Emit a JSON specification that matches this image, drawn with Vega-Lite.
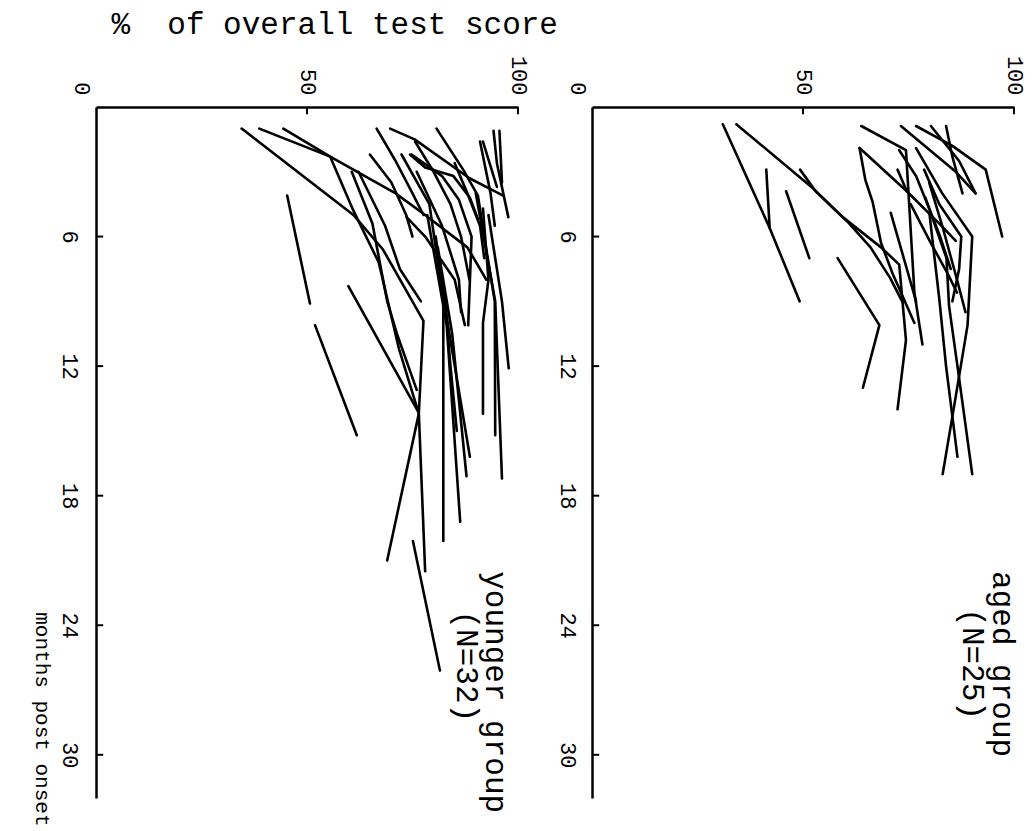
{
  "$schema": "https://vega.github.io/schema/vega-lite/v6.json",
  "padding": {"left": 31, "top": 8, "right": 5, "bottom": 3},
  "background": "white",
  "config": {
    "view": {"stroke": null},
    "font": "Liberation Mono",
    "axis": {
      "grid": false,
      "ticks": false,
      "domainColor": "black",
      "domainWidth": 2.5,
      "labelColor": "black",
      "labelFont": "Liberation Mono",
      "labelFontSize": 22,
      "titleColor": "black"
    }
  },
  "datasets": {
    "scores": [
      {"g": "younger", "id": "y1", "m": 1.0, "p": 34.5}, {"g": "younger", "id": "y1", "m": 5.0, "p": 61}, {"g": "younger", "id": "y1", "m": 6.6, "p": 68}, {"g": "younger", "id": "y1", "m": 9.9, "p": 77.6}, {"g": "younger", "id": "y1", "m": 14.2, "p": 76.5}, {"g": "younger", "id": "y1", "m": 21.0, "p": 69},
      {"g": "younger", "id": "y2", "m": 1.0, "p": 38.7}, {"g": "younger", "id": "y2", "m": 2.3, "p": 55.5}, {"g": "younger", "id": "y2", "m": 4.8, "p": 61}, {"g": "younger", "id": "y2", "m": 7.2, "p": 67}, {"g": "younger", "id": "y2", "m": 11.2, "p": 71.8}, {"g": "younger", "id": "y2", "m": 14.2, "p": 76.5}, {"g": "younger", "id": "y2", "m": 21.5, "p": 78},
      {"g": "younger", "id": "y3", "m": 1.0, "p": 44.4}, {"g": "younger", "id": "y3", "m": 2.3, "p": 55.5}, {"g": "younger", "id": "y3", "m": 4.0, "p": 71}, {"g": "younger", "id": "y3", "m": 5.0, "p": 78}, {"g": "younger", "id": "y3", "m": 6.5, "p": 88}, {"g": "younger", "id": "y3", "m": 8.0, "p": 92.5},
      {"g": "younger", "id": "y4", "m": 8.3, "p": 59.8}, {"g": "younger", "id": "y4", "m": 14.1, "p": 76.3},
      {"g": "younger", "id": "y5", "m": 4.1, "p": 45.3}, {"g": "younger", "id": "y5", "m": 9.1, "p": 50.7},
      {"g": "younger", "id": "y6", "m": 10.1, "p": 51.9}, {"g": "younger", "id": "y6", "m": 15.2, "p": 61.8},
      {"g": "younger", "id": "y7", "m": 20.1, "p": 75.1}, {"g": "younger", "id": "y7", "m": 26.1, "p": 81.5},
      {"g": "younger", "id": "y8", "m": 3.0, "p": 60.6}, {"g": "younger", "id": "y8", "m": 5.4, "p": 65.5}, {"g": "younger", "id": "y8", "m": 9.0, "p": 69}, {"g": "younger", "id": "y8", "m": 10.5, "p": 71.3}, {"g": "younger", "id": "y8", "m": 13.1, "p": 76},
      {"g": "younger", "id": "y9", "m": 3.0, "p": 62.2}, {"g": "younger", "id": "y9", "m": 5.5, "p": 68.5}, {"g": "younger", "id": "y9", "m": 7.5, "p": 72}, {"g": "younger", "id": "y9", "m": 9.0, "p": 77},
      {"g": "younger", "id": "y10", "m": 1.0, "p": 66.5}, {"g": "younger", "id": "y10", "m": 2.5, "p": 71}, {"g": "younger", "id": "y10", "m": 4.0, "p": 75}, {"g": "younger", "id": "y10", "m": 5.0, "p": 77.6},
      {"g": "younger", "id": "y11", "m": 1.0, "p": 69.7}, {"g": "younger", "id": "y11", "m": 1.5, "p": 75.5}, {"g": "younger", "id": "y11", "m": 3.3, "p": 88.5}, {"g": "younger", "id": "y11", "m": 3.8, "p": 93.5}, {"g": "younger", "id": "y11", "m": 4.1, "p": 96.5},
      {"g": "younger", "id": "y12", "m": 1.0, "p": 80.7}, {"g": "younger", "id": "y12", "m": 2.9, "p": 87}, {"g": "younger", "id": "y12", "m": 4.1, "p": 90.5}, {"g": "younger", "id": "y12", "m": 6.0, "p": 92}, {"g": "younger", "id": "y12", "m": 9.0, "p": 94.5}, {"g": "younger", "id": "y12", "m": 15.2, "p": 94.6},
      {"g": "younger", "id": "y13", "m": 1.6, "p": 91.7}, {"g": "younger", "id": "y13", "m": 3.7, "p": 95},
      {"g": "younger", "id": "y14", "m": 1.1, "p": 94.2}, {"g": "younger", "id": "y14", "m": 2.6, "p": 95}, {"g": "younger", "id": "y14", "m": 5.1, "p": 97.7},
      {"g": "younger", "id": "y15", "m": 1.1, "p": 95.6}, {"g": "younger", "id": "y15", "m": 3.5, "p": 96.2},
      {"g": "younger", "id": "y16", "m": 2.2, "p": 64.9}, {"g": "younger", "id": "y16", "m": 3.5, "p": 70}, {"g": "younger", "id": "y16", "m": 5.0, "p": 73.5}, {"g": "younger", "id": "y16", "m": 6.0, "p": 75},
      {"g": "younger", "id": "y17", "m": 2.2, "p": 72.4}, {"g": "younger", "id": "y17", "m": 4.5, "p": 79}, {"g": "younger", "id": "y17", "m": 6.5, "p": 80.5}, {"g": "younger", "id": "y17", "m": 9.0, "p": 82.3}, {"g": "younger", "id": "y17", "m": 20.1, "p": 82.3},
      {"g": "younger", "id": "y18", "m": 2.2, "p": 74.8}, {"g": "younger", "id": "y18", "m": 3.2, "p": 82}, {"g": "younger", "id": "y18", "m": 4.3, "p": 86}, {"g": "younger", "id": "y18", "m": 6.0, "p": 89}, {"g": "younger", "id": "y18", "m": 10.1, "p": 88.2},
      {"g": "younger", "id": "y19", "m": 5.1, "p": 73.6}, {"g": "younger", "id": "y19", "m": 6.0, "p": 78}, {"g": "younger", "id": "y19", "m": 8.0, "p": 85}, {"g": "younger", "id": "y19", "m": 10.1, "p": 87.4},
      {"g": "younger", "id": "y20", "m": 5.0, "p": 78.5}, {"g": "younger", "id": "y20", "m": 10.1, "p": 83.1}, {"g": "younger", "id": "y20", "m": 19.2, "p": 86.3},
      {"g": "younger", "id": "y21", "m": 6.0, "p": 80.5}, {"g": "younger", "id": "y21", "m": 10.1, "p": 83.4}, {"g": "younger", "id": "y21", "m": 16.2, "p": 88.6},
      {"g": "younger", "id": "y22", "m": 6.5, "p": 81}, {"g": "younger", "id": "y22", "m": 10.5, "p": 84.4}, {"g": "younger", "id": "y22", "m": 17.1, "p": 87.8},
      {"g": "younger", "id": "y23", "m": 4.7, "p": 91.7}, {"g": "younger", "id": "y23", "m": 8.0, "p": 93}, {"g": "younger", "id": "y23", "m": 10.0, "p": 91.7}, {"g": "younger", "id": "y23", "m": 14.2, "p": 91.7},
      {"g": "younger", "id": "y24", "m": 4.0, "p": 90}, {"g": "younger", "id": "y24", "m": 9.0, "p": 94.6}, {"g": "younger", "id": "y24", "m": 17.2, "p": 96.2},
      {"g": "younger", "id": "y25", "m": 5.0, "p": 93}, {"g": "younger", "id": "y25", "m": 9.0, "p": 96.2}, {"g": "younger", "id": "y25", "m": 12.1, "p": 97.8},
      {"g": "younger", "id": "y26", "m": 3.0, "p": 76}, {"g": "younger", "id": "y26", "m": 5.5, "p": 82}, {"g": "younger", "id": "y26", "m": 8.0, "p": 86}, {"g": "younger", "id": "y26", "m": 9.5, "p": 86.5},
      {"g": "younger", "id": "y27", "m": 1.6, "p": 75.6}, {"g": "younger", "id": "y27", "m": 3.0, "p": 80}, {"g": "younger", "id": "y27", "m": 4.5, "p": 84}, {"g": "younger", "id": "y27", "m": 6.0, "p": 86.5}, {"g": "younger", "id": "y27", "m": 8.0, "p": 88.5},
      {"g": "younger", "id": "y28", "m": 1.6, "p": 91.0}, {"g": "younger", "id": "y28", "m": 4.0, "p": 93.5}, {"g": "younger", "id": "y28", "m": 5.5, "p": 94.5},
      {"g": "younger", "id": "y29", "m": 2.6, "p": 85}, {"g": "younger", "id": "y29", "m": 4.0, "p": 88}, {"g": "younger", "id": "y29", "m": 5.5, "p": 91}, {"g": "younger", "id": "y29", "m": 7.0, "p": 92},
      {"g": "younger", "id": "y30", "m": 8.5, "p": 82.5}, {"g": "younger", "id": "y30", "m": 12.0, "p": 84}, {"g": "younger", "id": "y30", "m": 15.0, "p": 85.5},
      {"g": "younger", "id": "y31", "m": 2.2, "p": 74.4}, {"g": "younger", "id": "y31", "m": 2.8, "p": 78}, {"g": "younger", "id": "y31", "m": 3.2, "p": 84.7}, {"g": "younger", "id": "y31", "m": 4.2, "p": 88.6}, {"g": "younger", "id": "y31", "m": 5.2, "p": 90.5},
      {"g": "aged", "id": "a1", "m": 0.8, "p": 31.0}, {"g": "aged", "id": "a1", "m": 5.6, "p": 42.1}, {"g": "aged", "id": "a1", "m": 9.0, "p": 49.2},
      {"g": "aged", "id": "a2", "m": 0.8, "p": 34.2}, {"g": "aged", "id": "a2", "m": 3.7, "p": 52}, {"g": "aged", "id": "a2", "m": 5.1, "p": 59.4}, {"g": "aged", "id": "a2", "m": 6.5, "p": 68.5}, {"g": "aged", "id": "a2", "m": 7.3, "p": 72.8}, {"g": "aged", "id": "a2", "m": 10.8, "p": 74.4}, {"g": "aged", "id": "a2", "m": 14.0, "p": 72.4},
      {"g": "aged", "id": "a3", "m": 2.9, "p": 41.3}, {"g": "aged", "id": "a3", "m": 5.6, "p": 42.1},
      {"g": "aged", "id": "a4", "m": 3.9, "p": 46}, {"g": "aged", "id": "a4", "m": 7.0, "p": 51.5},
      {"g": "aged", "id": "a5", "m": 2.9, "p": 49.3}, {"g": "aged", "id": "a5", "m": 3.9, "p": 53}, {"g": "aged", "id": "a5", "m": 5.3, "p": 60.5}, {"g": "aged", "id": "a5", "m": 6.5, "p": 66}, {"g": "aged", "id": "a5", "m": 7.9, "p": 70.6}, {"g": "aged", "id": "a5", "m": 9.0, "p": 73.5},
      {"g": "aged", "id": "a7", "m": 7.0, "p": 58.2}, {"g": "aged", "id": "a7", "m": 10.1, "p": 68.1}, {"g": "aged", "id": "a7", "m": 13.0, "p": 64.2},
      {"g": "aged", "id": "a8", "m": 0.88, "p": 63.8}, {"g": "aged", "id": "a8", "m": 2.0, "p": 74.4}, {"g": "aged", "id": "a8", "m": 8.6, "p": 76.4}, {"g": "aged", "id": "a8", "m": 11.0, "p": 78.3},
      {"g": "aged", "id": "a9", "m": 0.88, "p": 73.2}, {"g": "aged", "id": "a9", "m": 3.0, "p": 86.2}, {"g": "aged", "id": "a9", "m": 4.0, "p": 90.9},
      {"g": "aged", "id": "a10", "m": 0.88, "p": 76.8}, {"g": "aged", "id": "a10", "m": 1.8, "p": 85.4}, {"g": "aged", "id": "a10", "m": 2.9, "p": 93.3}, {"g": "aged", "id": "a10", "m": 6.0, "p": 97.2},
      {"g": "aged", "id": "a11", "m": 0.88, "p": 83.9}, {"g": "aged", "id": "a11", "m": 2.3, "p": 85.4}, {"g": "aged", "id": "a11", "m": 4.0, "p": 87.8},
      {"g": "aged", "id": "a12", "m": 0.88, "p": 80.3}, {"g": "aged", "id": "a12", "m": 2.5, "p": 87}, {"g": "aged", "id": "a12", "m": 4.0, "p": 90.9},
      {"g": "aged", "id": "a13", "m": 1.9, "p": 76.8}, {"g": "aged", "id": "a13", "m": 4.0, "p": 83}, {"g": "aged", "id": "a13", "m": 6.0, "p": 90.1}, {"g": "aged", "id": "a13", "m": 10.1, "p": 89}, {"g": "aged", "id": "a13", "m": 13.4, "p": 86.2}, {"g": "aged", "id": "a13", "m": 17.0, "p": 83.1},
      {"g": "aged", "id": "a14", "m": 4.2, "p": 79}, {"g": "aged", "id": "a14", "m": 7.0, "p": 84}, {"g": "aged", "id": "a14", "m": 9.2, "p": 84.6}, {"g": "aged", "id": "a14", "m": 12.0, "p": 86.6}, {"g": "aged", "id": "a14", "m": 17.0, "p": 90.1},
      {"g": "aged", "id": "a15", "m": 5.0, "p": 80}, {"g": "aged", "id": "a15", "m": 8.9, "p": 82.3}, {"g": "aged", "id": "a15", "m": 12.0, "p": 83.9}, {"g": "aged", "id": "a15", "m": 16.2, "p": 86.6},
      {"g": "aged", "id": "a16", "m": 4.9, "p": 70.8}, {"g": "aged", "id": "a16", "m": 9.0, "p": 76.8},
      {"g": "aged", "id": "a17", "m": 2.9, "p": 78.7}, {"g": "aged", "id": "a17", "m": 4.5, "p": 82.3}, {"g": "aged", "id": "a17", "m": 6.0, "p": 87.5}, {"g": "aged", "id": "a17", "m": 7.5, "p": 87}, {"g": "aged", "id": "a17", "m": 9.0, "p": 85.4},
      {"g": "aged", "id": "a18", "m": 3.5, "p": 79.9}, {"g": "aged", "id": "a18", "m": 5.5, "p": 83}, {"g": "aged", "id": "a18", "m": 8.0, "p": 86.5}, {"g": "aged", "id": "a18", "m": 9.5, "p": 88.5},
      {"g": "aged", "id": "a19", "m": 1.9, "p": 63.4}, {"g": "aged", "id": "a19", "m": 3.9, "p": 74.6}, {"g": "aged", "id": "a19", "m": 5.4, "p": 82.3}, {"g": "aged", "id": "a19", "m": 6.2, "p": 86.2},
      {"g": "aged", "id": "a20", "m": 1.9, "p": 63.4}, {"g": "aged", "id": "a20", "m": 3.4, "p": 64.8}, {"g": "aged", "id": "a20", "m": 4.4, "p": 66.5}, {"g": "aged", "id": "a20", "m": 6.3, "p": 68.5}, {"g": "aged", "id": "a20", "m": 7.7, "p": 71.2}, {"g": "aged", "id": "a20", "m": 10.0, "p": 76.4},
      {"g": "aged", "id": "a23", "m": 2.0, "p": 72.8}, {"g": "aged", "id": "a23", "m": 3.2, "p": 76.8}, {"g": "aged", "id": "a23", "m": 4.7, "p": 79.9}, {"g": "aged", "id": "a23", "m": 6.0, "p": 82.5}, {"g": "aged", "id": "a23", "m": 7.5, "p": 85},
      {"g": "aged", "id": "a24", "m": 4.5, "p": 75.5}, {"g": "aged", "id": "a24", "m": 6.3, "p": 80.3}, {"g": "aged", "id": "a24", "m": 7.8, "p": 84.5}, {"g": "aged", "id": "a24", "m": 8.6, "p": 86.5},
      {"g": "aged", "id": "a25", "m": 2.9, "p": 72.4}, {"g": "aged", "id": "a25", "m": 3.9, "p": 74.6}
    ],
    "monthTicks": [{"v": 6}, {"v": 12}, {"v": 18}, {"v": 24}, {"v": 30}],
    "pctTicks": [{"v": 50}, {"v": 100}]
  },
  "spacing": 74,
  "bounds": "flush",
  "hconcat": [
    {
      "width": 422,
      "height": 691,
      "layer": [
        {
          "data": {"name": "scores"},
          "transform": [{"filter": "datum.g === 'younger'"}],
          "mark": {"type": "line", "color": "black", "strokeWidth": 2.6, "strokeCap": "round", "strokeJoin": "round"},
          "encoding": {
            "x": {
              "field": "p", "type": "quantitative",
              "scale": {"domain": [0, 100], "nice": false},
              "axis": {
                "orient": "top", "values": [0, 50, 100],
                "labelAngle": 90, "labelAlign": "right", "labelBaseline": "middle", "labelPadding": 12, "labelFontSize": 22,
                "labelOffset": {"condition": {"test": "datum.value === 0", "value": -15}, "value": 0},
                "title": "% \u00a0of overall test score",
                "titleAngle": 0, "titleFont": "Liberation Mono", "titleFontSize": 31, "titleFontWeight": "normal",
                "titleAlign": "left", "titleBaseline": "alphabetic", "titleX": 15, "titleY": -74
              }
            },
            "y": {
              "field": "m", "type": "quantitative",
              "scale": {"domain": [0, 32], "nice": false, "reverse": true},
              "axis": {
                "orient": "left", "values": [6, 12, 18, 24, 30],
                "labelAngle": 90, "labelAlign": "center", "labelBaseline": "top", "labelPadding": 17, "labelFontSize": 22,
                "title": "months post onset",
                "titleAngle": 90, "titleFont": "Liberation Mono", "titleFontSize": 21, "titleFontWeight": "normal",
                "titleAlign": "right", "titleBaseline": "middle", "titleX": -55, "titleY": 719
              }
            },
            "detail": {"field": "id"},
            "order": {"field": "m", "type": "quantitative"}
          }
        },
        {
          "data": {"name": "monthTicks"},
          "mark": {"type": "rule", "color": "black", "strokeWidth": 2},
          "encoding": {"y": {"field": "v", "type": "quantitative"}, "x": {"datum": 0, "type": "quantitative"}, "x2": {"datum": 1.7}}
        },
        {
          "data": {"name": "pctTicks"},
          "mark": {"type": "rule", "color": "black", "strokeWidth": 2},
          "encoding": {"x": {"field": "v", "type": "quantitative"}, "y": {"datum": 0, "type": "quantitative"}, "y2": {"datum": 0.33}}
        },
        {
          "data": {"values": [{}]},
          "mark": {"type": "text", "text": "younger group", "angle": 90, "align": "center", "baseline": "middle", "font": "Liberation Mono", "fontSize": 31, "color": "black"},
          "encoding": {"x": {"datum": 94.5, "type": "quantitative"}, "y": {"datum": 27.1, "type": "quantitative"}}
        },
        {
          "data": {"values": [{}]},
          "mark": {"type": "text", "text": "(N=32)", "angle": 90, "align": "center", "baseline": "middle", "font": "Liberation Mono", "fontSize": 31, "color": "black"},
          "encoding": {"x": {"datum": 87.7, "type": "quantitative"}, "y": {"datum": 25.9, "type": "quantitative"}}
        }
      ]
    },
    {
      "width": 422,
      "height": 691,
      "layer": [
        {
          "data": {"name": "scores"},
          "transform": [{"filter": "datum.g === 'aged'"}],
          "mark": {"type": "line", "color": "black", "strokeWidth": 2.6, "strokeCap": "round", "strokeJoin": "round"},
          "encoding": {
            "x": {
              "field": "p", "type": "quantitative",
              "scale": {"domain": [0, 100], "nice": false},
              "axis": {
                "orient": "top", "values": [0, 50, 100],
                "labelAngle": 90, "labelAlign": "right", "labelBaseline": "middle", "labelPadding": 12, "labelFontSize": 22,
                "labelOffset": {"condition": {"test": "datum.value === 0", "value": -15}, "value": 0},
                "title": null
              }
            },
            "y": {
              "field": "m", "type": "quantitative",
              "scale": {"domain": [0, 32], "nice": false, "reverse": true},
              "axis": {
                "orient": "left", "values": [6, 12, 18, 24, 30],
                "labelAngle": 90, "labelAlign": "center", "labelBaseline": "top", "labelPadding": 15, "labelFontSize": 22,
                "title": null
              }
            },
            "detail": {"field": "id"},
            "order": {"field": "m", "type": "quantitative"}
          }
        },
        {
          "data": {"name": "monthTicks"},
          "mark": {"type": "rule", "color": "black", "strokeWidth": 2},
          "encoding": {"y": {"field": "v", "type": "quantitative"}, "x": {"datum": 0, "type": "quantitative"}, "x2": {"datum": 1.7}}
        },
        {
          "data": {"name": "pctTicks"},
          "mark": {"type": "rule", "color": "black", "strokeWidth": 2},
          "encoding": {"x": {"field": "v", "type": "quantitative"}, "y": {"datum": 0, "type": "quantitative"}, "y2": {"datum": 0.33}}
        },
        {
          "data": {"values": [{}]},
          "mark": {"type": "text", "text": "aged group", "angle": 90, "align": "center", "baseline": "middle", "font": "Liberation Mono", "fontSize": 31, "color": "black"},
          "encoding": {"x": {"datum": 97.2, "type": "quantitative"}, "y": {"datum": 25.8, "type": "quantitative"}}
        },
        {
          "data": {"values": [{}]},
          "mark": {"type": "text", "text": "(N=25)", "angle": 90, "align": "center", "baseline": "middle", "font": "Liberation Mono", "fontSize": 31, "color": "black"},
          "encoding": {"x": {"datum": 90.0, "type": "quantitative"}, "y": {"datum": 25.8, "type": "quantitative"}}
        }
      ]
    }
  ]
}
